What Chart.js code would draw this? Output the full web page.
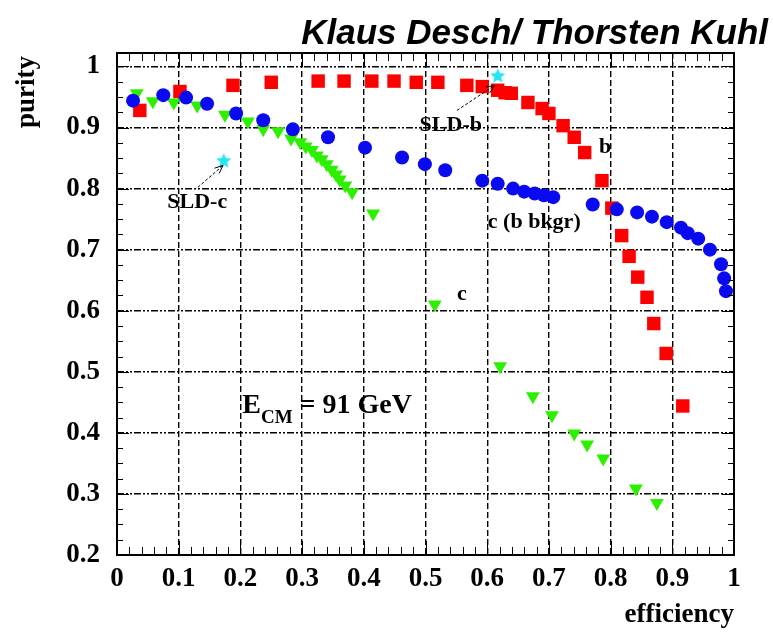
<!DOCTYPE html>
<html>
<head>
<meta charset="utf-8">
<script src="https://cdn.jsdelivr.net/npm/chart.js@4.4.0/dist/chart.umd.min.js"></script>
<style>
  html, body { margin: 0; padding: 0; background: #fff; }
  canvas { display: block; }
</style>
</head>
<body>
<canvas id="chart" width="773" height="632"></canvas>
<script>
/* efficiency / purity values */
const bEff = [0.037, 0.102, 0.188, 0.250, 0.326, 0.368, 0.413, 0.449, 0.485, 0.520, 0.567, 0.592,
              0.617, 0.629, 0.639, 0.666, 0.689, 0.700, 0.723, 0.741, 0.758, 0.786, 0.802, 0.818,
              0.830, 0.844, 0.859, 0.870, 0.890, 0.917];
const bPur = [0.928, 0.959, 0.969, 0.974, 0.976, 0.976, 0.976, 0.976, 0.974, 0.974, 0.969, 0.967,
              0.961, 0.957, 0.956, 0.941, 0.931, 0.923, 0.903, 0.884, 0.859, 0.813, 0.768, 0.723,
              0.689, 0.655, 0.622, 0.579, 0.530, 0.444];

const cbEff = [0.026, 0.075, 0.112, 0.146, 0.193, 0.237, 0.285, 0.342, 0.402, 0.462, 0.499, 0.532,
               0.592, 0.617, 0.642, 0.660, 0.677, 0.692, 0.707, 0.771, 0.810, 0.843, 0.867, 0.891,
               0.914, 0.925, 0.942, 0.961, 0.979, 0.984, 0.987];
const cbPur = [0.944, 0.953, 0.949, 0.939, 0.923, 0.912, 0.897, 0.884, 0.867, 0.851, 0.840, 0.830,
               0.813, 0.808, 0.800, 0.795, 0.792, 0.789, 0.786, 0.774, 0.766, 0.761, 0.754, 0.745,
               0.736, 0.727, 0.718, 0.700, 0.676, 0.653, 0.632];

const cEff = [0.032, 0.058, 0.092, 0.130, 0.175, 0.212, 0.237, 0.261, 0.282, 0.297, 0.306, 0.316,
              0.324, 0.332, 0.340, 0.348, 0.355, 0.361, 0.370, 0.381, 0.415, 0.515, 0.621, 0.674,
              0.705, 0.741, 0.762, 0.788, 0.841, 0.875];
const cPur = [0.956, 0.943, 0.941, 0.936, 0.921, 0.910, 0.897, 0.894, 0.882, 0.876, 0.869, 0.863,
              0.854, 0.848, 0.840, 0.831, 0.823, 0.815, 0.805, 0.794, 0.759, 0.610, 0.509, 0.460,
              0.429, 0.399, 0.381, 0.358, 0.309, 0.285];

const sldEff = [0.173, 0.617];
const sldPur = [0.845, 0.984];

const xTicks = [0, 0.1, 0.2, 0.3, 0.4, 0.5, 0.6, 0.7, 0.8, 0.9, 1];
const yTicks = [0.2, 0.3, 0.4, 0.5, 0.6, 0.7, 0.8, 0.9, 1];

const pts = (xs, ys) => xs.map((x, i) => ({ x, y: ys[i] }));

/* filled 5-point star used as point style for the SLD points */
function makeStar(r, color) {
  const c = document.createElement('canvas');
  c.width = c.height = Math.ceil(r * 2 + 2);
  const g = c.getContext('2d');
  const cx = c.width / 2, cy = c.height / 2;
  g.beginPath();
  for (let i = 0; i < 10; i++) {
    const rad = i % 2 ? r * 0.45 : r;
    const a = -Math.PI / 2 + i * Math.PI / 5;
    g.lineTo(cx + rad * Math.cos(a), cy + rad * Math.sin(a));
  }
  g.closePath();
  g.fillStyle = color;
  g.fill();
  return c;
}

const SERIF = '"Liberation Serif", "DejaVu Serif", serif';

/* frame, inward ticks and text annotations */
const decorPlugin = {
  id: 'decor',
  afterDraw(chart) {
    const { ctx, chartArea: a, scales: { x, y } } = chart;
    ctx.save();
    ctx.strokeStyle = '#000';
    ctx.lineWidth = 1;
    ctx.setLineDash([]);
    ctx.beginPath();
    for (let i = 0; i <= 50; i++) {
      const px = Math.round(x.getPixelForValue(i * 0.02)) + 0.5;
      const len = i % 5 === 0 ? 14 : 8;
      ctx.moveTo(px, a.bottom); ctx.lineTo(px, a.bottom - len);
      ctx.moveTo(px, a.top); ctx.lineTo(px, a.top + len);
    }
    for (let i = 0; i <= 32; i++) {
      const py = Math.round(y.getPixelForValue(0.2 + i * 0.025)) + 0.5;
      const len = i % 4 === 0 ? 12 : 6;
      ctx.moveTo(a.left, py); ctx.lineTo(a.left + len, py);
      ctx.moveTo(a.right, py); ctx.lineTo(a.right - len, py);
    }
    ctx.stroke();
    ctx.lineWidth = 2;
    ctx.strokeRect(a.left, a.top, a.right - a.left, a.bottom - a.top);

    // arrows pointing at the SLD stars
    const arrow = (x0, y0, x1, y1) => {
      const p0 = [x.getPixelForValue(x0), y.getPixelForValue(y0)];
      const p1 = [x.getPixelForValue(x1), y.getPixelForValue(y1)];
      ctx.lineWidth = 1;
      ctx.setLineDash([3, 2]);
      ctx.beginPath(); ctx.moveTo(p0[0], p0[1]); ctx.lineTo(p1[0], p1[1]); ctx.stroke();
      ctx.setLineDash([]);
      const ang = Math.atan2(p1[1] - p0[1], p1[0] - p0[0]);
      ctx.beginPath();
      ctx.moveTo(p1[0] - 9 * Math.cos(ang - 0.4), p1[1] - 9 * Math.sin(ang - 0.4));
      ctx.lineTo(p1[0], p1[1]);
      ctx.lineTo(p1[0] - 9 * Math.cos(ang + 0.4), p1[1] - 9 * Math.sin(ang + 0.4));
      ctx.stroke();
    };
    arrow(0.131, 0.802, 0.172, 0.838);
    arrow(0.551, 0.928, 0.612, 0.969);

    ctx.fillStyle = '#000';
    ctx.textBaseline = 'alphabetic';
    const label = (txt, xv, yv, align, size) => {
      ctx.font = `bold ${size}px ${SERIF}`;
      ctx.textAlign = align;
      ctx.fillText(txt, x.getPixelForValue(xv), y.getPixelForValue(yv));
    };
    label('SLD-c', 0.130, 0.769, 'center', 22);
    label('SLD-b', 0.541, 0.895, 'center', 22);
    label('b', 0.781, 0.859, 'left', 22);
    label('c (b bkgr)', 0.601, 0.736, 'left', 22);
    label('c', 0.551, 0.617, 'left', 22);

    // E_CM = 91 GeV
    let ex = x.getPixelForValue(0.203);
    const ey = y.getPixelForValue(0.432);
    ctx.textAlign = 'left';
    ctx.font = `bold 28px ${SERIF}`;
    ctx.fillText('E', ex, ey);
    ex += ctx.measureText('E').width;
    ctx.font = `bold 19px ${SERIF}`;
    ctx.fillText('CM', ex, ey + 10);
    ex += ctx.measureText('CM').width;
    ctx.font = `bold 28px ${SERIF}`;
    ctx.fillText(' = 91 GeV', ex, ey);

    // axis titles
    ctx.font = `bold 27px ${SERIF}`;
    ctx.textAlign = 'right';
    ctx.fillText('efficiency', a.right, 622);
    ctx.save();
    ctx.translate(34, 92);
    ctx.rotate(-Math.PI / 2);
    ctx.textAlign = 'center';
    ctx.fillText('purity', 0, 0);
    ctx.restore();

    // header
    ctx.font = 'bold italic 35px "Liberation Sans", Arial, sans-serif';
    ctx.textAlign = 'right';
    ctx.fillText('Klaus Desch/ Thorsten Kuhl', 768, 44);
    ctx.restore();
  },
};

const tickFmt = v => String(Math.round(v * 10) / 10);

new Chart(document.getElementById('chart'), {
  type: 'scatter',
  data: {
    datasets: [
      {
        label: 'SLD', data: pts(sldEff, sldPur), order: 0,
        pointStyle: makeStar(8, '#22e6f2'), pointRadius: 8,
      },
      {
        label: 'c (b bkgr)', data: pts(cbEff, cbPur), order: 1,
        pointStyle: 'circle', pointRadius: 7,
        backgroundColor: '#0a0af0', borderColor: '#0a0af0', borderWidth: 0,
      },
      {
        label: 'c', data: pts(cEff, cPur), order: 2,
        pointStyle: 'triangle', rotation: 180, pointRadius: 8,
        backgroundColor: '#2cf000', borderColor: '#2cf000', borderWidth: 0,
      },
      {
        label: 'b', data: pts(bEff, bPur), order: 3,
        pointStyle: 'rect', pointRadius: 9.5,
        backgroundColor: '#ff0000', borderColor: '#ff0000', borderWidth: 0,
      },
    ],
  },
  options: {
    responsive: false,
    animation: false,
    events: [],
    layout: { padding: { left: 0, top: 53, right: 39, bottom: 0 } },
    plugins: { legend: { display: false }, tooltip: { enabled: false } },
    scales: {
      x: {
        type: 'linear', min: 0, max: 1,
        afterFit: s => { s.height = 77; },
        afterBuildTicks: s => { s.ticks = xTicks.map(value => ({ value })); },
        grid: { color: '#000', lineWidth: 1.4, drawTicks: false },
        border: { display: false, dash: [6, 3] },
        ticks: {
          padding: 8, color: '#000', maxRotation: 0, autoSkip: false,
          font: { family: SERIF, size: 27, weight: 'bold' },
          callback: tickFmt,
        },
      },
      y: {
        type: 'linear', min: 0.2, max: 1.022,
        afterFit: s => { s.width = 117; },
        afterBuildTicks: s => { s.ticks = yTicks.map(value => ({ value })); },
        grid: { color: '#000', lineWidth: 1.4, drawTicks: false },
        border: { display: false, dash: [7, 2, 2, 2, 2, 2] },
        ticks: {
          padding: 17, color: '#000', autoSkip: false,
          font: { family: SERIF, size: 27, weight: 'bold' },
          callback: tickFmt,
        },
      },
    },
  },
  plugins: [decorPlugin],
});
</script>
</body>
</html>
